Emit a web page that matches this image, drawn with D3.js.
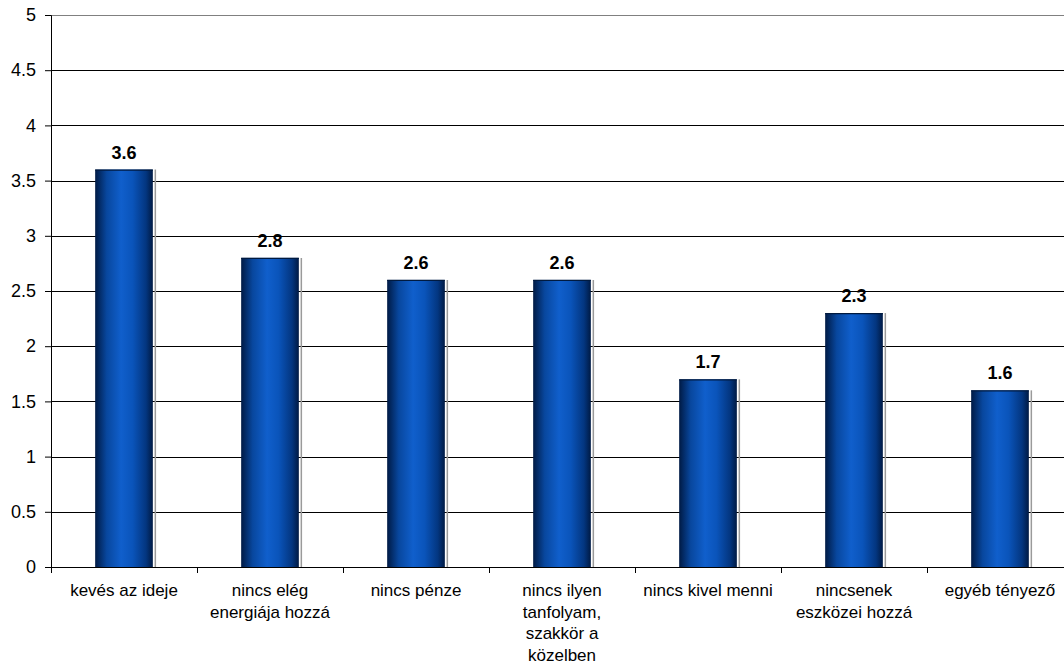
<!DOCTYPE html>
<html>
  <head>
    <meta charset="utf-8">
    <script src="https://d3js.org/d3.v7.min.js"></script>
    <style>
      body { margin: 0; background: #fff; }
      svg { display: block; }
    </style>
  </head>
  <body>
    <svg id="chart"></svg>
<script>
      // ---------------------------
      // DATA
      // ---------------------------
      var categories = [
        ["kevés az ideje"],
        ["nincs elég", "energiája hozzá"],
        ["nincs pénze"],
        ["nincs ilyen", "tanfolyam,", "szakkör a", "közelben"],
        ["nincs kivel menni"],
        ["nincsenek", "eszközei hozzá"],
        ["egyéb tényező"]
      ];
      var values = [3.6, 2.8, 2.6, 2.6, 1.7, 2.3, 1.6];
      var yTicks = [0, 0.5, 1, 1.5, 2, 2.5, 3, 3.5, 4, 4.5, 5];

      // ---------------------------
      // CONSTANTS
      // ---------------------------
      var canvasWidth = 1064;
      var canvasHeight = 666;
      var plotLeft = 51;
      var plotRight = 1073;   // plot area runs past the window edge
      var plotTop = 15;
      var plotBottom = 567;
      var myFont = "'Liberation Sans', Arial, sans-serif";
      var fontSize = 17;
      var numFontSize = 18;
      var lineHeight = 21.5;

      var svg = d3.select("#chart")
        .attr("width", canvasWidth)
        .attr("height", canvasHeight);

      // gradient for the bars
      var grad = svg.append("defs")
        .append("linearGradient")
        .attr("id", "barGrad")
        .attr("x1", "0%").attr("x2", "100%")
        .attr("y1", "0%").attr("y2", "0%");
      grad.append("stop").attr("offset", "0%").attr("stop-color", "#001a44");
      grad.append("stop").attr("offset", "20%").attr("stop-color", "#08479e");
      grad.append("stop").attr("offset", "45%").attr("stop-color", "#105fcc");
      grad.append("stop").attr("offset", "65%").attr("stop-color", "#0a54ba");
      grad.append("stop").attr("offset", "88%").attr("stop-color", "#033680");
      grad.append("stop").attr("offset", "100%").attr("stop-color", "#001a44");

      // scales
      var x = d3.scaleBand()
        .domain(d3.range(categories.length))
        .range([plotLeft, plotRight])
        .paddingInner(0)
        .paddingOuter(0);
      var y = d3.scaleLinear()
        .domain([0, 5])
        .range([plotBottom, plotTop]);

      var barWidth = x.bandwidth() * 0.395;

      // gridlines
      svg.append("g")
        .selectAll("line")
        .data(yTicks.filter(function(d) { return d > 0; }))
        .enter()
        .append("line")
        .attr("x1", plotLeft)
        .attr("x2", plotRight)
        .attr("y1", function(d) { return Math.round(y(d)) + 0.5; })
        .attr("y2", function(d) { return Math.round(y(d)) + 0.5; })
        .style("stroke", function(d) { return d === 5 ? "#808080" : "#000"; })
        .style("stroke-width", 1);

      // bars
      var barG = svg.append("g");
      barG.selectAll("line.shadow")
        .data(values)
        .enter()
        .append("line")
        .attr("class", "shadow")
        .attr("x1", function(d, i) { return x(i) + (x.bandwidth() - barWidth) / 2 + barWidth + 2.5; })
        .attr("x2", function(d, i) { return x(i) + (x.bandwidth() - barWidth) / 2 + barWidth + 2.5; })
        .attr("y1", function(d) { return y(d); })
        .attr("y2", plotBottom)
        .style("stroke", "#9a9a9a")
        .style("stroke-width", 1.5);

      barG.selectAll("rect")
        .data(values)
        .enter()
        .append("rect")
        .attr("x", function(d, i) { return x(i) + (x.bandwidth() - barWidth) / 2; })
        .attr("y", function(d) { return y(d); })
        .attr("width", barWidth)
        .attr("height", function(d) { return plotBottom - y(d); })
        .style("fill", "url(#barGrad)");

      barG.selectAll("line.top")
        .data(values)
        .enter()
        .append("line")
        .attr("class", "top")
        .attr("x1", function(d, i) { return x(i) + (x.bandwidth() - barWidth) / 2; })
        .attr("x2", function(d, i) { return x(i) + (x.bandwidth() - barWidth) / 2 + barWidth; })
        .attr("y1", function(d) { return y(d) + 0.5; })
        .attr("y2", function(d) { return y(d) + 0.5; })
        .style("stroke", "#001a40")
        .style("stroke-width", 1.2);

      // value labels
      svg.append("g")
        .selectAll("text")
        .data(values)
        .enter()
        .append("text")
        .attr("x", function(d, i) { return x(i) + x.bandwidth() / 2; })
        .attr("y", function(d) { return y(d) - 11; })
        .attr("text-anchor", "middle")
        .attr("font-family", myFont)
        .attr("font-size", numFontSize)
        .attr("font-weight", "bold")
        .attr("fill", "#000")
        .text(function(d) { return d.toFixed(1); });

      // y-axis
      var yAxis = svg.append("g")
        .attr("transform", "translate(" + plotLeft + ",0)")
        .call(d3.axisLeft(y).tickValues(yTicks).tickSize(6).tickPadding(9)
              .tickFormat(function(d) { return String(d); }));
      yAxis.select(".domain").attr("stroke", "#000");
      yAxis.selectAll("text")
        .attr("font-family", myFont)
        .attr("font-size", numFontSize)
        .attr("fill", "#000");

      // x-axis (ticks at category boundaries)
      var xAxisG = svg.append("g");
      xAxisG.append("line")
        .attr("x1", plotLeft)
        .attr("x2", plotRight)
        .attr("y1", plotBottom + 0.5)
        .attr("y2", plotBottom + 0.5)
        .style("stroke", "#000");
      xAxisG.selectAll("line.tick")
        .data(d3.range(categories.length + 1))
        .enter()
        .append("line")
        .attr("class", "tick")
        .attr("x1", function(i) { return Math.round(plotLeft + i * x.bandwidth()) + 0.5; })
        .attr("x2", function(i) { return Math.round(plotLeft + i * x.bandwidth()) + 0.5; })
        .attr("y1", plotBottom)
        .attr("y2", plotBottom + 6)
        .style("stroke", "#000");

      // category labels
      var catLabels = xAxisG.selectAll("text")
        .data(categories)
        .enter()
        .append("text")
        .attr("text-anchor", "middle")
        .attr("font-family", myFont)
        .attr("font-size", fontSize)
        .attr("fill", "#000");
      catLabels.selectAll("tspan")
        .data(function(d, i) { return d.map(function(line) { return { line: line, i: i }; }); })
        .enter()
        .append("tspan")
        .attr("x", function(d) { return x(d.i) + x.bandwidth() / 2; })
        .attr("y", function(d, j) { return 596 + j * lineHeight; })
        .text(function(d) { return d.line; });
    </script>
  </body>
</html>
